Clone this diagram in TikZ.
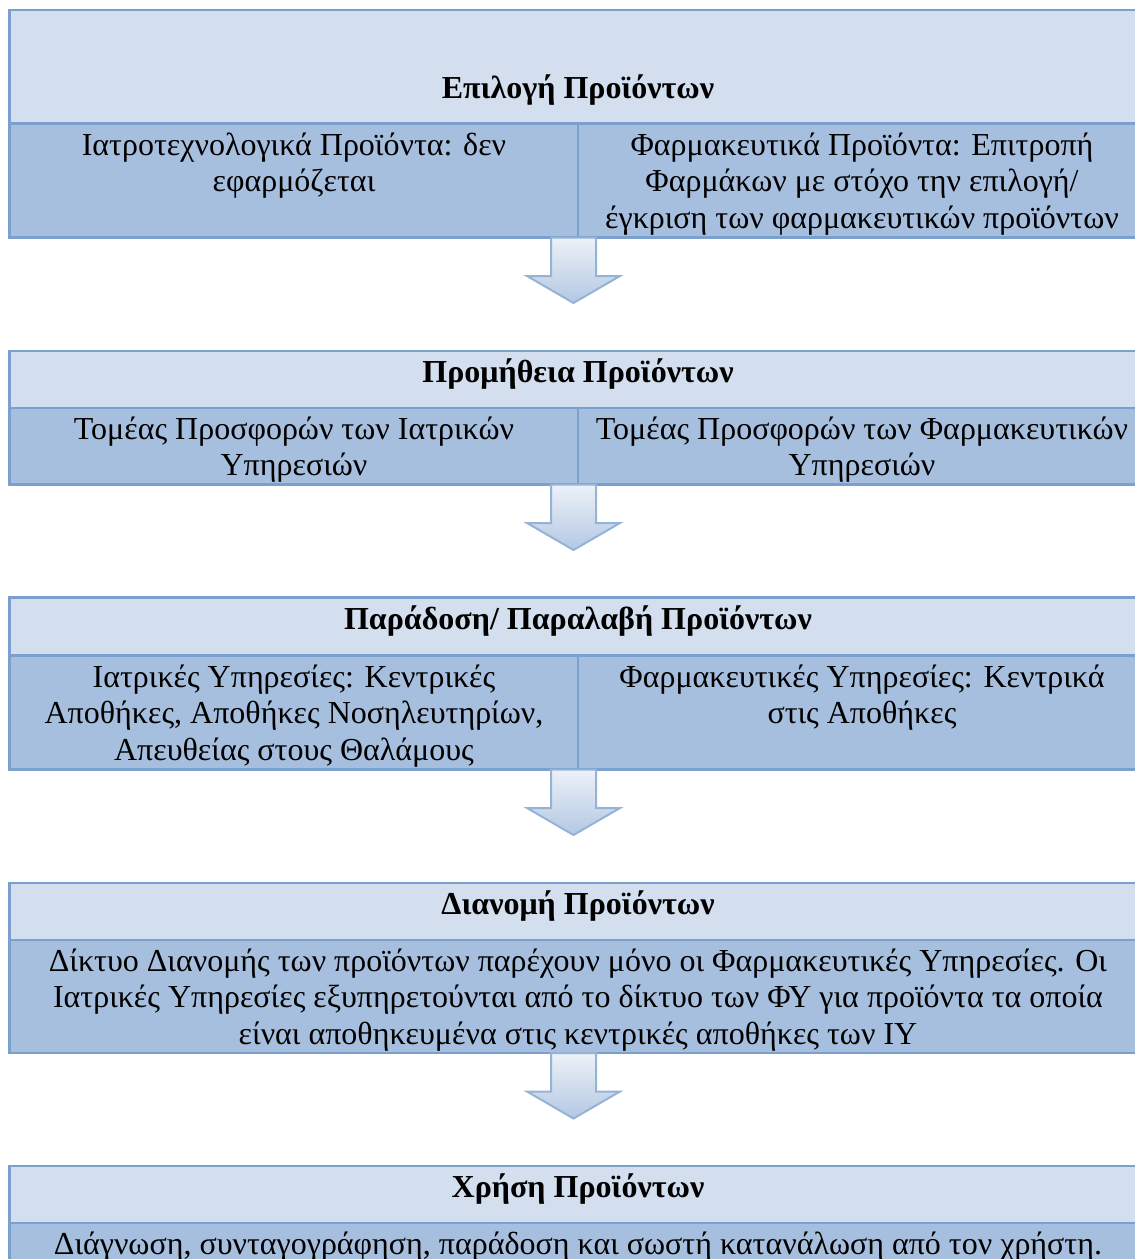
\documentclass[tikz,border=0pt]{standalone}
\usepackage{fontspec}
\setmainfont{Liberation Serif}
\definecolor{hdrfill}{HTML}{D3DFEE}
\definecolor{bodyfill}{HTML}{A7BFDE}
\definecolor{edge}{HTML}{7BA0CD}
\definecolor{arrowedge}{HTML}{95B3D7}
\definecolor{arrowtop}{HTML}{EDF1F8}
\definecolor{arrowbot}{HTML}{B3C8E3}
% centred lines, node baseline = baseline of the first line
\newcommand\celllines[1]{\vtop{\halign{\hfil##\hfil\cr#1\crcr}}}
\tikzset{
  headtext/.style={font=\fontsize{32}{36.8}\selectfont\bfseries, anchor=base, inner sep=0pt},
  celltext/.style={font=\fontsize{32}{36.8}\selectfont, anchor=base, inner sep=0pt},
  hdrcell/.style={fill=hdrfill},
  bodycell/.style={fill=bodyfill},
  gridline/.style={draw=edge, line width=2.5pt},
  blockarrow/.style={draw=arrowedge, line width=2pt, top color=arrowtop,
    bottom color=arrowbot, line join=miter},
}
% #1 top, #2 header/body boundary, #3 bottom, #4 1 = split body into two cells
\newcommand\stagetable[4]{%
  \fill[hdrcell] (9.5,#1) rectangle (1146,#2);
  \fill[bodycell] (9.5,#2) rectangle (1146,#3);
  \draw[gridline] (9.5,#2) -- (1146,#2);
  \ifnum#4=1 \draw[gridline] (578,#2) -- (578,#3);\fi
  \draw[gridline] (9.5,#1) rectangle (1146,#3);
}
% down arrow hanging from a named coordinate
\newcommand\stagearrow[1]{%
  \path[blockarrow] (#1) ++(-22.5,0) -- ++(0,38.5) -- ++(-24,0) -- ++(46.5,27)
    -- ++(46.5,-27) -- ++(-24,0) -- ++(0,-38.5) -- cycle;
}
\begin{document}
\begin{tikzpicture}[x=1pt,y=-1pt]
\useasboundingbox (0,0) rectangle (1135,1259);
\clip (0,0) rectangle (1135,1259);

% stage 1: selection
\stagetable{10}{123.5}{237.5}{1}
\node[headtext] (selhead) at (578,98) {Επιλογή Προϊόντων};
\node[celltext] (selleft) at (294,155) {\celllines{Ιατροτεχνολογικά Προϊόντα: δεν\cr εφαρμόζεται}};
\node[celltext] (selright) at (862,155) {\celllines{Φαρμακευτικά Προϊόντα: Επιτροπή\cr Φαρμάκων με στόχο την επιλογή/\cr έγκριση των φαρμακευτικών προϊόντων}};
\coordinate (selout) at (573.5,237.5);

% stage 2: procurement
\stagetable{351}{408}{484.5}{1}
\node[headtext] (prochead) at (578,382) {Προμήθεια Προϊόντων};
\node[celltext] (procleft) at (294,439) {\celllines{Τομέας Προσφορών των Ιατρικών\cr Υπηρεσιών}};
\node[celltext] (procright) at (862,439) {\celllines{Τομέας Προσφορών των Φαρμακευτικών\cr Υπηρεσιών}};
\coordinate (procout) at (573.5,484.5);

% stage 3: delivery / receipt
\stagetable{597.5}{655.5}{769.5}{1}
\node[headtext] (delhead) at (578,629) {Παράδοση/ Παραλαβή Προϊόντων};
\node[celltext] (delleft) at (294,687) {\celllines{Ιατρικές Υπηρεσίες: Κεντρικές\cr Αποθήκες, Αποθήκες Νοσηλευτηρίων,\cr Απευθείας στους Θαλάμους}};
\node[celltext] (delright) at (862,687) {\celllines{Φαρμακευτικές Υπηρεσίες: Κεντρικά\cr στις Αποθήκες}};
\coordinate (delout) at (573.5,769.5);

% stage 4: distribution
\stagetable{883}{940}{1053}{0}
\node[headtext] (disthead) at (578,914) {Διανομή Προϊόντων};
\node[celltext] (distbody) at (578,971) {\celllines{Δίκτυο Διανομής των προϊόντων παρέχουν μόνο οι Φαρμακευτικές Υπηρεσίες. Οι\cr Ιατρικές Υπηρεσίες εξυπηρετούνται από το δίκτυο των ΦΥ για προϊόντα τα οποία\cr είναι αποθηκευμένα στις κεντρικές αποθήκες των ΙΥ}};
\coordinate (distout) at (573.5,1053);

% stage 5: use
\stagetable{1166}{1223}{1300}{0}
\node[headtext] (usehead) at (578,1197) {Χρήση Προϊόντων};
\node[celltext] (usebody) at (578,1254) {Διάγνωση, συνταγογράφηση, παράδοση και σωστή κατανάλωση από τον χρήστη.};

% arrows between stages
\stagearrow{selout}
\stagearrow{procout}
\stagearrow{delout}
\stagearrow{distout}
\end{tikzpicture}
\end{document}
